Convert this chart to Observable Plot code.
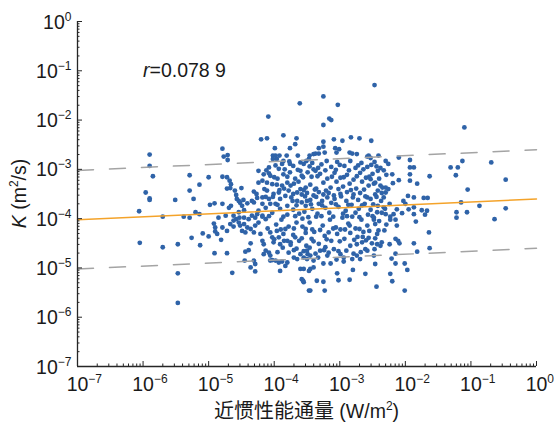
<!DOCTYPE html>
<html><head><meta charset="utf-8">
<script src="https://cdn.jsdelivr.net/npm/d3@7"></script>
<script src="https://cdn.jsdelivr.net/npm/@observablehq/plot@0.6"></script>
<style>
body{margin:0;background:#fff;}
#chart{width:554px;height:426px;}
</style></head><body><div id="chart"></div>
<script>
const obsLog = [
[-6.06,-3.85],[-6.05,-4.49],[-5.96,-3.47],[-5.90,-2.70],[-5.90,-2.93],[-5.85,-3.14],[-5.90,-3.59],[-5.90,-3.62],[-5.70,-3.96],[-5.70,-4.58],[-5.51,-3.62],[-5.47,-4.52],[-5.47,-5.11],[-5.47,-5.71],[-5.38,-3.96],[-5.29,-3.98],[-5.29,-3.12],[-5.29,-3.43],[-5.26,-4.39],[-5.23,-3.60],[-5.20,-3.87],[-5.14,-3.31],[-5.14,-3.91],[-5.13,-4.54],[-5.09,-4.30],[-5.00,-3.16],[-5.00,-4.36],
[-4.98,-3.72],[-4.91,-3.69],[-4.79,-3.70],[-4.79,-2.58],[-4.71,-2.71],[-4.77,-2.74],[-4.71,-2.81],[-4.79,-3.15],[-4.72,-3.16],[-4.68,-3.23],[-4.66,-3.30],[-4.67,-3.38],[-4.72,-3.39],[-4.50,-3.38],[-4.60,-3.43],[-4.58,-3.52],[-4.57,-3.60],[-4.54,-3.64],[-4.52,-3.68],[-4.47,-3.62],[-4.31,-3.45],[-4.27,-3.50],[-4.26,-3.58],[-4.18,-3.57],[-4.24,-3.27],[-4.18,-3.23],[-4.11,-3.27],[-4.34,-3.64],[-4.31,-3.67],[-4.24,-3.03],[-4.20,-2.39],[-4.11,-2.37],[-4.09,-1.93],
[-4.69,-3.78],[-4.66,-3.74],[-4.49,-3.74],[-4.41,-3.69],[-4.46,-3.83],[-4.54,-3.87],[-4.62,-3.94],[-4.74,-3.94],[-4.85,-3.98],[-4.92,-4.10],[-4.90,-4.18],[-4.90,-4.26],[-4.87,-4.31],[-4.81,-4.43],[-4.91,-4.70],[-4.72,-4.70],[-4.64,-5.10],
[-4.54,-4.08],[-4.52,-4.14],[-4.46,-4.11],[-4.41,-4.18],[-4.49,-4.25],[-4.44,-4.28],[-4.36,-4.21],[-4.29,-4.14],[-4.31,-4.28],[-4.24,-4.08],[-4.36,-4.50],[-4.44,-4.67],[-4.39,-4.64],[-4.31,-4.85],[-4.36,-4.99],[-4.29,-5.07],[-4.29,-4.92],[-4.45,-4.85],
[-4.21,-4.31],[-4.18,-4.45],[-4.16,-4.52],[-4.13,-4.65],[-4.08,-4.69],[-4.06,-4.75],[-4.16,-4.72],
[-4.62,-4.04],[-4.58,-4.01],[-4.53,-3.98],[-4.46,-3.98],[-4.39,-4.01],[-4.34,-3.94],[-4.29,-3.98],[-4.26,-3.91],[-4.18,-3.94],[-4.13,-4.01],
[-4.79,-4.18],[-4.72,-4.25],[-4.67,-4.11],[-4.62,-4.16],
[-4.06,-4.28],[-4.03,-4.38],[-4.01,-4.48],[-3.96,-4.25],[-3.93,-4.38],[-3.91,-4.52],[-3.86,-4.31],[-3.83,-4.21],[-3.80,-4.45],
[-3.91,-5.06],[-3.80,-4.89],[-3.83,-4.96],[-3.60,-5.02],[-3.55,-5.02],[-3.47,-5.06],[-3.45,-5.02],[-3.58,-5.23],[-3.55,-5.29],[-3.47,-5.46],[-3.60,-4.72],[-3.55,-4.79],[-3.65,-4.82],[-3.70,-4.79],[-4.03,-4.84],[-3.98,-4.85],[-3.93,-4.89],[-3.88,-4.87],
[-3.76,-2.57],[-4.02,-2.72],[-3.98,-2.72],[-3.92,-2.72],[-3.96,-2.79],[-4.02,-2.79],[-3.81,-2.72],[-3.86,-2.83],[-3.64,-2.72],[-3.77,-2.84],[-3.76,-2.89],[-3.88,-2.89],[-4.08,-2.96],[-4.16,-3.10],[-4.08,-3.08],[-3.93,-2.99],[-3.86,-3.10],[-3.76,-3.06],[-3.60,-2.86],[-3.55,-2.89],[-3.51,-2.83],[-3.47,-2.79],[-3.60,-3.03],[-3.49,-3.06],[-3.58,-3.13],
[-4.03,-3.30],[-4.11,-3.43],[-4.01,-3.50],[-3.93,-3.47],[-3.88,-3.33],[-3.80,-3.27],[-3.75,-3.33],[-3.70,-3.29],[-3.91,-3.60],[-3.83,-3.54],[-3.78,-3.43],[-3.71,-3.50],[-3.65,-3.47],[-3.60,-3.40],[-3.52,-3.37],[-4.08,-3.60],[-4.18,-3.70],[-3.98,-3.70],[-3.80,-3.74],[-3.65,-3.64],[-3.58,-3.67],[-3.50,-3.64],
[-2.47,-1.29],[-3.25,-1.52],[-3.03,-1.69],[-3.61,-1.66],[-3.16,-1.97],[-3.13,-2.00],[-3.25,-2.10],[-3.86,-2.31],[-3.66,-2.37],[-3.68,-2.49],[-3.99,-2.57],[-3.09,-2.39],[-2.96,-2.42],[-2.83,-2.35],[-2.70,-2.37],[-2.52,-2.42],[-1.10,-2.15],
[-3.25,-2.44],[-3.25,-2.54],[-3.32,-2.57],[-3.37,-2.68],[-3.32,-2.68],[-3.23,-2.66],[-3.46,-2.72],[-3.40,-2.69],[-3.07,-2.57],[-3.05,-2.66],[-2.85,-2.66],[-2.81,-2.68],[-2.74,-2.69],[-2.56,-2.72],[-3.01,-2.59],[-2.53,-2.77],
[-1.93,-2.81],[-1.93,-2.96],[-1.87,-2.96],[-1.93,-3.10],[-1.93,-3.23],[-2.10,-2.76],[-2.20,-3.10],[-2.19,-3.28],[-2.10,-3.22],[-1.82,-3.29],[-1.63,-3.14],[-1.31,-2.96],[-1.20,-2.96],[-1.23,-3.12],[-1.13,-2.83],[-0.69,-2.86],[-0.47,-3.21],[-1.05,-3.41],[-1.96,-3.54],[-1.87,-3.57],[-1.72,-3.58],[-1.66,-3.58],[-1.87,-3.77],[-1.87,-3.91],[-2.30,-2.83],[-2.41,-2.72],[-2.58,-2.74],
[-2.05,-3.89],[-1.95,-3.81],[-2.23,-4.02],[-2.15,-4.02],[-2.13,-4.14],[-2.29,-4.12],[-2.48,-4.02],[-2.46,-4.11],[-2.15,-4.41],[-2.11,-4.45],[-2.09,-4.50],[-2.24,-4.52],[-2.15,-4.71],[-2.21,-4.81],[-2.15,-4.91],[-1.97,-5.04],[-2.23,-5.12],[-2.20,-5.27],[-2.01,-5.46],[-2.44,-5.38],[-2.61,-5.12],[-2.85,-5.24],[-3.02,-5.25],[-3.04,-5.11],[-2.80,-5.04],[-3.25,-5.28],[-3.35,-5.26],[-3.45,-5.46],[-3.23,-5.46],[-3.56,-5.26],[-3.25,-4.91],[-3.14,-4.91],[-3.40,-4.99],[-3.37,-4.71],[-3.49,-4.72],[-2.46,-4.92],[-2.48,-4.75],[-2.47,-4.62],[-2.43,-4.52],[-2.36,-4.48],[-2.38,-4.55],[-2.79,-4.71],[-2.84,-4.55],[-2.74,-4.52],[-2.66,-4.48],[-2.61,-4.62],[-2.58,-4.65],[-2.51,-4.50],[-2.94,-4.79],[-2.99,-4.72],[-3.09,-4.62],[-3.17,-4.69],[-3.22,-4.58],
[-2.01,-4.91],[-1.64,-4.28],[-1.63,-4.60],[-1.87,-4.50],[-1.82,-4.67],[-1.84,-4.06],[-1.70,-3.92],[-1.67,-3.84],[-1.75,-3.83],[-1.22,-3.87],[-1.22,-3.98],[-1.06,-3.87],[-0.87,-3.74],[-0.64,-4.01],[-0.47,-3.79],[-1.15,-3.67],
[-2.41,-4.24],[-2.43,-4.31],[-2.46,-4.40],[-4.06,-4.85],[-3.40,-4.85],[-2.94,-4.87],[-2.81,-4.82],[-2.74,-4.75],[-2.69,-4.82],[-3.50,-4.82],
[-2.44,-2.94],[-2.42,-3.03],[-2.33,-3.57],[-2.53,-3.20],[-2.48,-3.29],[-2.38,-3.33],[-2.30,-3.37],[-2.30,-3.47],[-2.03,-3.64],[-2.00,-3.70],[-2.13,-3.81],[-2.18,-3.91],[-2.23,-3.96],[-2.33,-3.77],[-2.43,-3.87],[-2.30,-3.91],[-2.48,-3.98],
[-3.75,-4.48],[-3.68,-4.38],[-3.50,-4.65],[-3.45,-4.75],
[-3.58,-3.51],[-3.50,-3.48],[-3.40,-3.53],[-3.32,-3.46],[-3.25,-3.51],[-3.17,-3.48],[-3.09,-3.53],[-2.99,-3.50],[-2.89,-3.46],[-2.79,-3.51],[-2.69,-3.48],[-2.58,-3.57],[-2.46,-3.51],[-2.36,-3.48],
[-3.52,-3.74],[-3.42,-3.80],[-3.32,-3.70],[-3.22,-3.78],[-3.13,-3.68],[-3.02,-3.76],[-2.91,-3.84],[-2.82,-3.72],[-2.71,-3.80],[-2.62,-3.70],[-2.53,-3.82],[-2.42,-3.74],[-2.31,-3.80],[-2.24,-3.70],
[-3.57,-4.00],[-3.46,-4.08],[-3.36,-3.96],[-3.26,-4.14],[-3.15,-4.02],[-3.06,-4.18],[-2.96,-3.98],[-2.87,-4.10],[-2.76,-4.20],[-2.67,-4.02],[-2.58,-4.14],[-2.81,-3.96],[-2.99,-4.22],[-3.42,-4.22],[-3.66,-4.08],[-3.78,-4.16],[-3.89,-4.02],[-3.97,-4.12],
[-3.71,-4.33],[-3.62,-4.45],[-3.52,-4.29],[-3.43,-4.41],[-3.32,-4.51],[-3.23,-4.35],[-3.13,-4.45],[-3.04,-4.31],[-2.93,-4.41],[-2.84,-4.29],[-2.73,-4.37],[-2.64,-4.27],[-2.56,-4.39],[-3.75,-4.53],[-3.51,-4.55],[-3.39,-4.27],
[-3.66,-4.61],[-3.46,-4.59],[-3.30,-4.65],[-3.33,-4.79],[-3.19,-4.75],[-3.05,-4.83],[-2.90,-4.65],[-3.78,-4.69],[-3.87,-4.59],
[-3.42,-2.87],[-3.33,-2.97],[-3.20,-2.83],[-3.13,-2.95],[-3.04,-2.85],[-2.93,-2.93],[-2.84,-2.83],[-2.76,-2.97],[-2.67,-2.87],[-2.58,-2.95],[-2.47,-2.85],[-2.38,-2.97],[-2.26,-2.89],[-3.37,-3.03],
[-3.43,-3.15],[-3.30,-3.09],[-3.19,-3.19],[-3.08,-3.07],[-2.99,-3.17],[-2.89,-3.11],[-2.79,-3.21],[-2.69,-3.07],[-2.60,-3.17],[-2.50,-3.09],[-2.40,-3.19],[-2.29,-3.11],[-3.68,-3.19],[-3.95,-3.19],[-4.06,-3.13],
[-3.45,-3.31],[-3.36,-3.39],[-3.25,-3.27],[-3.14,-3.37],[-3.05,-3.25],[-2.95,-3.35],[-2.85,-3.29],[-2.75,-3.39],[-2.66,-3.25],[-2.56,-3.33],[-2.46,-3.27],[-2.35,-3.37],[-3.63,-3.25],[-3.85,-3.39],[-3.96,-3.31],
[-3.45,-3.62],[-3.27,-3.64],[-3.08,-3.60],[-2.90,-3.64],[-2.72,-3.62],[-2.53,-3.60],[-2.37,-3.64],[-3.72,-3.64],[-4.06,-3.70],[-4.13,-3.56],
[-4.13,-3.78],[-4.03,-3.88],[-4.24,-3.84],[-3.91,-3.80],[-3.80,-3.92],[-3.71,-3.82],[-3.62,-3.90],[-4.18,-3.96],
[-3.54,-3.86],[-3.34,-3.90],[-3.16,-3.88],[-2.95,-3.90],[-2.76,-3.88],[-2.57,-3.92],[-2.36,-3.88],[-3.57,-4.16],[-3.17,-4.28],[-2.85,-4.14],[-2.65,-4.37],[-2.32,-4.24],
[-3.98,-2.92],[-3.71,-2.93],[-3.46,-2.94],[-3.28,-2.90],[-3.00,-2.91],[-2.72,-2.92],[-2.52,-2.91],
[-4.12,-3.02],[-3.84,-3.00],[-3.64,-3.01],[-3.40,-3.00],[-3.22,-3.02],[-3.06,-3.01],[-2.86,-3.02],[-2.64,-3.00],[-2.33,-3.02],
[-4.00,-3.16],[-3.80,-3.15],[-3.56,-3.16],[-3.34,-3.14],[-3.12,-3.15],[-2.94,-3.16],[-2.74,-3.14],[-2.55,-3.15],
[-4.15,-3.40],[-3.92,-3.42],[-3.55,-3.42],[-3.38,-3.41],[-3.21,-3.43],[-3.02,-3.40],[-2.83,-3.42],[-2.63,-3.41],[-2.42,-3.43],[-2.26,-3.40],
[-4.02,-3.56],[-3.74,-3.57],[-3.53,-3.55],[-3.36,-3.56],[-3.19,-3.57],[-2.98,-3.55],[-2.80,-3.57],[-2.61,-3.55],[-2.44,-3.56],
[-3.95,-3.72],[-3.66,-3.73],[-3.44,-3.71],[-3.27,-3.73],[-3.06,-3.71],[-2.87,-3.72],[-2.66,-3.73],[-2.49,-3.71],
[-4.08,-3.95],[-3.86,-3.96],[-3.68,-3.95],[-3.48,-3.97],[-3.28,-3.95],[-3.10,-3.96],[-2.89,-3.95],[-2.70,-3.97],[-2.50,-3.95],[-2.40,-4.05],
[-4.10,-4.20],[-3.90,-4.22],[-3.70,-4.20],[-3.52,-4.21],[-3.30,-4.23],[-3.10,-4.20],[-2.92,-4.22],[-2.70,-4.21],[-2.55,-4.25],
[-4.00,-4.42],[-3.85,-4.45],[-3.58,-4.40],[-3.40,-4.46],[-3.20,-4.42],[-3.00,-4.46],[-2.78,-4.43],[-2.60,-4.44],
[-3.95,-4.68],[-3.70,-4.64],[-3.55,-4.66],[-3.24,-4.64],[-3.02,-4.66],[-2.68,-4.68]
];

// Fitted relation log10 K = fitLogKAt1 + fitSlope * log10 flux, dashed lines at ×10 and ÷10
const fitSlope = 0.06;
const fitLogKAt1 = -3.602;
const bandFactor = 10;
const fitFluxEnds = [1e-7, 1];
const decadeTicks = [1e-7, 1e-6, 1e-5, 1e-4, 1e-3, 1e-2, 1e-1, 1];
const rText = "0.078 9";

const points = obsLog.map(([lx, ly]) => ({flux: 10 ** lx, k: 10 ** ly}));
const fitK = f => 10 ** (fitLogKAt1 + fitSlope * Math.log10(f));
const fitLine = fitFluxEnds.map(f => ({flux: f, k: fitK(f)}));
const upperLine = fitFluxEnds.map(f => ({flux: f, k: fitK(f) * bandFactor}));
const lowerLine = fitFluxEnds.map(f => ({flux: f, k: fitK(f) / bandFactor}));
const minorTicks = d3.scaleLog().domain([1e-7, 1]).ticks()
  .filter(v => Math.abs(Math.log10(v) - Math.round(Math.log10(v))) > 1e-6);

const W = 554, H = 426, ML = 77, MR = 18, MT = 21, MB = 60;
const FW = W - ML - MR, FH = H - MT - MB;
const axisColor = "#262626";
const fmt = d => "10^" + Math.round(Math.log10(d));

const svg = Plot.plot({
  width: W, height: H,
  marginLeft: ML, marginRight: MR, marginTop: MT, marginBottom: MB,
  style: {fontFamily: "'Liberation Sans', Arial, sans-serif", fontSize: "19.5px", color: "#1a1a1a", background: "#fff", overflow: "visible"},
  x: {type: "log", domain: [1e-7, 1]},
  y: {type: "log", domain: [1e-7, 1]},
  marks: [
    Plot.dot(points, {x: "flux", y: "k", r: 2.4, fill: "#2f63a8"}),
    Plot.line(upperLine, {x: "flux", y: "k", stroke: "#a4a4a4", strokeWidth: 1.5, strokeDasharray: "16,16"}),
    Plot.line(lowerLine, {x: "flux", y: "k", stroke: "#a4a4a4", strokeWidth: 1.5, strokeDasharray: "16,16"}),
    Plot.line(fitLine, {x: "flux", y: "k", stroke: "#f4a32a", strokeWidth: 1.4}),
    Plot.tickX(minorTicks, {x: d => d, insetTop: FH - 2.5, stroke: axisColor, strokeWidth: 1}),
    Plot.tickX(decadeTicks, {x: d => d, insetTop: FH - 5, stroke: axisColor, strokeWidth: 1}),
    Plot.tickY(minorTicks, {y: d => d, insetRight: FW - 2.5, stroke: axisColor, strokeWidth: 1}),
    Plot.tickY(decadeTicks, {y: d => d, insetRight: FW - 5, stroke: axisColor, strokeWidth: 1}),
    Plot.ruleX([1e-7], {stroke: axisColor, strokeWidth: 1.3}),
    Plot.ruleY([1e-7], {stroke: axisColor, strokeWidth: 1.3}),
    Plot.axisX(decadeTicks, {tickSize: 0, tickPadding: 0, tickFormat: fmt, label: null, fontSize: 19.5}),
    Plot.axisY(decadeTicks, {tickSize: 0, tickPadding: 6, tickFormat: fmt, label: null, fontSize: 19.5})
  ]
});

// turn "10^-3" tick labels into 10 with a superscript exponent
svg.querySelectorAll("text").forEach(el => {
  const t = el.textContent;
  if (!t.includes("^")) return;
  const [base, exp] = t.split("^");
  const g = el.closest("g[aria-label]");
  const isX = g && /x-axis/.test(g.getAttribute("aria-label"));
  el.textContent = "";
  const s = d3.select(el);
  s.append("tspan").text(base);
  s.append("tspan").attr("dy", -8).attr("font-size", 12).text(exp.replace("-", "\u2212"));
  if (isX) {
    s.attr("text-anchor", "start").attr("dx", "-0.556em").attr("y", 24.7);
  } else {
    s.attr("text-anchor", "end").attr("y", 7);
  }
});

const root = d3.select(svg);
const fontLatin = "'Liberation Sans', Arial, sans-serif";

// correlation annotation
const rt = root.append("text").attr("x", 143).attr("y", 76.5).attr("text-anchor", "start")
  .attr("font-family", fontLatin).attr("font-size", 19.5).attr("fill", "#1a1a1a");
rt.append("tspan").attr("font-style", "italic").text("r");
rt.append("tspan").text("=" + rText);

// y axis title
const yt = root.append("text").attr("transform", `translate(26,${MT + FH / 2}) rotate(-90)`)
  .attr("text-anchor", "middle").attr("font-family", fontLatin).attr("font-size", 19.5).attr("fill", "#1a1a1a");
yt.append("tspan").attr("font-style", "italic").text("K");
yt.append("tspan").text(" (m");
yt.append("tspan").attr("dy", -8).attr("font-size", 12).text("2");
yt.append("tspan").attr("dy", 8).text("/s)");

// x axis title
const xt = root.append("text").attr("x", ML + FW / 2).attr("y", 418)
  .attr("text-anchor", "middle").attr("font-family", fontLatin).attr("font-size", 19.5).attr("fill", "#1a1a1a");
xt.append("tspan").attr("font-family", "'Noto Sans CJK SC', sans-serif").attr("font-size", 20).text("近惯性能通量");
xt.append("tspan").text(" (W/m");
xt.append("tspan").attr("dy", -8).attr("font-size", 12).text("2");
xt.append("tspan").attr("dy", 8).text(")");

document.getElementById("chart").appendChild(svg);
</script>
</body></html>
